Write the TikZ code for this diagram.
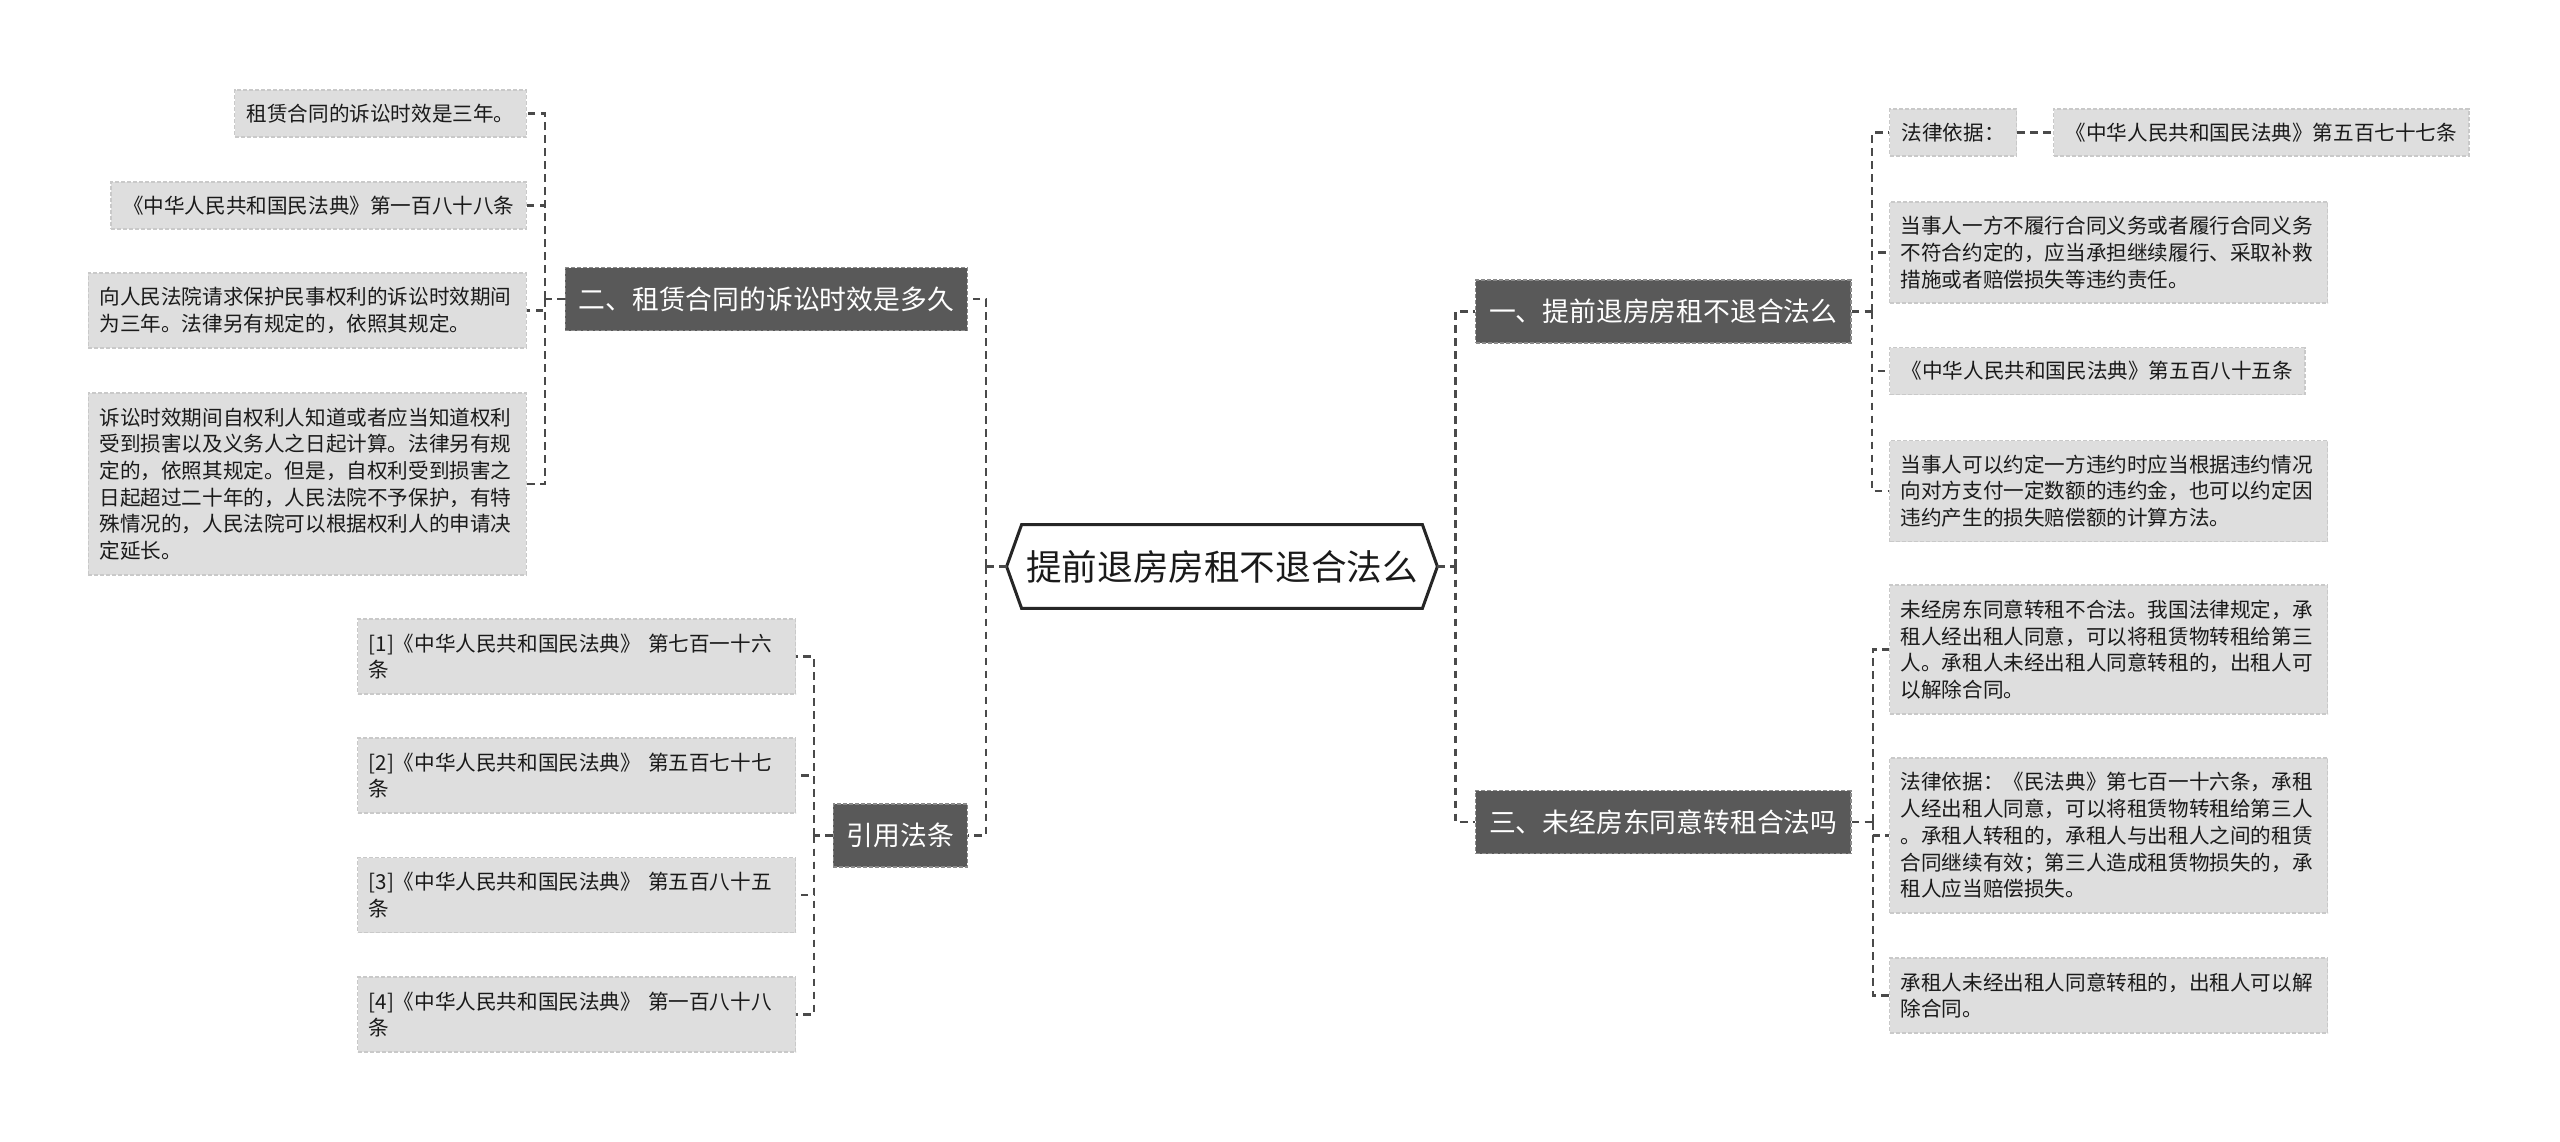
\documentclass[tikz,border=0pt]{standalone}
\usepackage{fontspec}
\setmainfont{Noto Sans CJK SC}
\usetikzlibrary{calc}
\definecolor{branchgray}{HTML}{595959}
\definecolor{branchline}{HTML}{8A8A8A}
\definecolor{leafgray}{HTML}{DEDEDE}
\definecolor{leafline}{HTML}{C9C9C9}
\definecolor{linkgray}{HTML}{4A4A4A}
\definecolor{textdark}{HTML}{1A1A1A}
\tikzset{
 link/.style={draw=linkgray, line width=1.1pt, dash pattern=on 3.8pt off 2.7pt},
 leaf/.style={fill=leafgray, draw=leafline, line width=0.6pt, dash pattern=on 2pt off 1pt, text=textdark, font=\fontsize{10.3pt}{13.35pt}\selectfont, inner xsep=6pt, inner ysep=0pt, align=left},
 wideleaf/.style={leaf, text width=208pt, inner xsep=5.5pt},
 branch/.style={fill=branchgray, draw=branchline, line width=0.6pt, dash pattern=on 2pt off 1pt, text=white, font=\fontsize{13.4pt}{16pt}\selectfont, inner xsep=6.75pt, inner ysep=0pt, minimum height=31.5pt},
 mainnode/.style={font=\fontsize{17.8pt}{20pt}\selectfont, text=textdark, minimum width=215pt, minimum height=41.5pt, inner sep=0pt},
}
\begin{document}
\begin{tikzpicture}[x=0.5pt, y=-0.5pt]
\useasboundingbox (0,0) rectangle (2560,1141);
% central node
\node[mainnode] (main) at (1222,566.5) {提前退房房租不退合法么};
\draw[line width=1.5pt, draw=black!85, fill=white] (main.west) -- ([xshift=7.5pt]main.north west) -- ([xshift=-7.5pt]main.north east) -- (main.east) -- ([xshift=-7.5pt]main.south east) -- ([xshift=7.5pt]main.south west) -- cycle;
\node[mainnode] at (main.center) {提前退房房租不退合法么};
% branches
\node[branch, anchor=east] (b2) at (968,299) {二、租赁合同的诉讼时效是多久};
\node[branch, anchor=east] (b4) at (968,835.5) {引用法条};
\node[branch, anchor=west] (b1) at (1475,311.5) {一、提前退房房租不退合法么};
\node[branch, anchor=west] (b3) at (1475,822) {三、未经房东同意转租合法吗};
% left leaves
\node[leaf, anchor=east, minimum height=23.5pt] (l1) at (527,113.5) {租赁合同的诉讼时效是三年。};
\node[leaf, anchor=east, minimum height=23.5pt] (l2) at (527,205.5) {《中华人民共和国民法典》第一百八十八条};
\node[wideleaf, anchor=east, minimum height=37.5pt] (l3) at (527,310.5) {向人民法院请求保护民事权利的诉讼时效期间\\为三年。法律另有规定的，依照其规定。};
\node[wideleaf, anchor=east, minimum height=91pt] (l4) at (527,484) {诉讼时效期间自权利人知道或者应当知道权利\\受到损害以及义务人之日起计算。法律另有规\\定的，依照其规定。但是，自权利受到损害之\\日起超过二十年的，人民法院不予保护，有特\\殊情况的，人民法院可以根据权利人的申请决\\定延长。};
% citations
\node[wideleaf, anchor=west, minimum height=37.5pt] (c1) at (357,656.5) {[1]《中华人民共和国民法典》 第七百一十六\\条};
\node[wideleaf, anchor=west, minimum height=37.5pt] (c2) at (357,775.5) {[2]《中华人民共和国民法典》 第五百七十七\\条};
\node[wideleaf, anchor=west, minimum height=37.5pt] (c3) at (357,895) {[3]《中华人民共和国民法典》 第五百八十五\\条};
\node[wideleaf, anchor=west, minimum height=37.5pt] (c4) at (357,1014.5) {[4]《中华人民共和国民法典》 第一百八十八\\条};
% right leaves
\node[leaf, anchor=west, minimum height=23.5pt] (r1a) at (1889,132.5) {法律依据：};
\node[leaf, anchor=west, minimum height=23.5pt] (r1b) at (2053,132.5) {《中华人民共和国民法典》第五百七十七条};
\node[wideleaf, anchor=west, minimum height=50.5pt] (r2) at (1889,252.5) {当事人一方不履行合同义务或者履行合同义务\\不符合约定的，应当承担继续履行、采取补救\\措施或者赔偿损失等违约责任。};
\node[leaf, anchor=west, minimum height=23.5pt] (r3) at (1889,371) {《中华人民共和国民法典》第五百八十五条};
\node[wideleaf, anchor=west, minimum height=50.5pt] (r4) at (1889,491) {当事人可以约定一方违约时应当根据违约情况\\向对方支付一定数额的违约金，也可以约定因\\违约产生的损失赔偿额的计算方法。};
\node[wideleaf, anchor=west, minimum height=64.5pt] (r5) at (1889,649.5) {未经房东同意转租不合法。我国法律规定，承\\租人经出租人同意，可以将租赁物转租给第三\\人。承租人未经出租人同意转租的，出租人可\\以解除合同。};
\node[wideleaf, anchor=west, minimum height=77.5pt] (r6) at (1889,835.5) {法律依据：《民法典》第七百一十六条，承租\\人经出租人同意，可以将租赁物转租给第三人\\。承租人转租的，承租人与出租人之间的租赁\\合同继续有效；第三人造成租赁物损失的，承\\租人应当赔偿损失。};
\node[wideleaf, anchor=west, minimum height=37.5pt] (r7) at (1889,995.5) {承租人未经出租人同意转租的，出租人可以解\\除合同。};
% connectors
\draw[link] (main.west) -- ++(-21,0) coordinate (lbus);
\draw[link] (lbus) |- (b2.east);
\draw[link] (lbus) |- (b4.east);
\draw[link] (main.east) -- ++(18,0) coordinate (rbus);
\draw[link] (rbus) |- (b1.west);
\draw[link] (rbus) |- (b3.west);
\draw[link] (b2.west) -- ++(-20,0) coordinate (b2bus);
\foreach \n in {l1,l2,l3,l4} \draw[link] (b2bus) |- (\n.east);
\draw[link] (b4.west) -- ++(-19,0) coordinate (b4bus);
\foreach \n in {c1,c2,c3,c4} \draw[link] (b4bus) |- (\n.east);
\draw[link] (b1.east) -- ++(20.5,0) coordinate (b1bus);
\foreach \n in {r1a,r2,r3,r4} \draw[link] (b1bus) |- (\n.west);
\draw[link] (r1a.east) -- (r1b.west);
\draw[link] (b3.east) -- ++(21,0) coordinate (b3bus);
\foreach \n in {r5,r6,r7} \draw[link] (b3bus) |- (\n.west);
\end{tikzpicture}
\end{document}
